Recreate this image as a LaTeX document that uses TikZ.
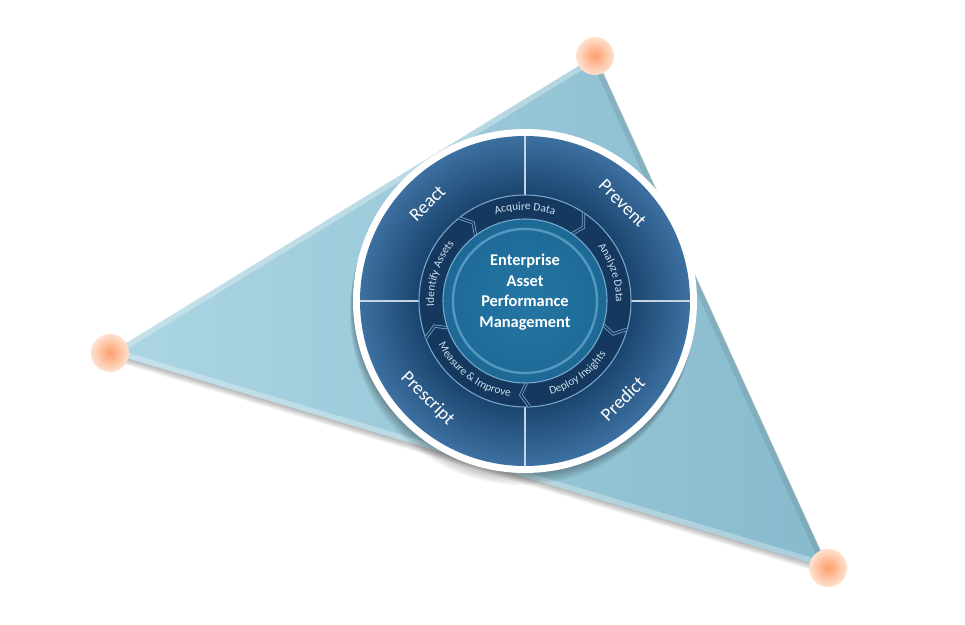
\documentclass[tikz,border=0pt]{standalone}
\usepackage{fontspec}
\setmainfont{Carlito}
\usetikzlibrary{decorations.text}

\definecolor{triLight}{RGB}{172,214,228}
\definecolor{triDark}{RGB}{134,186,204}
\definecolor{discOuter}{RGB}{60,112,160}
\definecolor{discInner}{RGB}{26,68,110}
\definecolor{ringNavy}{RGB}{20,56,94}
\definecolor{ringLine}{RGB}{120,168,205}
\definecolor{hubBlue}{RGB}{26,98,142}
\definecolor{hubLight}{RGB}{36,118,164}
\definecolor{hubLine}{RGB}{84,152,194}
\definecolor{ballCore}{RGB}{253,158,108}
\definecolor{ballRim}{RGB}{254,226,208}
\definecolor{ringText}{RGB}{204,224,238}

\pgfdeclareradialshading{hubshade}{\pgfpoint{0bp}{0bp}}{color(0bp)=(hubLight); color(40bp)=(hubBlue); color(50bp)=(hubBlue)}

\tikzset{
    quarter/.style={font=\fontsize{14}{16}\selectfont, text=white},
    hubtext/.style={font=\fontsize{12.3}{15.5}\selectfont\bfseries, text=white, align=center},
    ringlabel/.style={decorate, decoration={text along path, text align=center, text color=ringText, text={|\fontsize{8.5}{9}\selectfont|#1}}},
    divider/.style={draw=white!70!discOuter, line width=0.8pt},
    chevron/.style={draw=ringLine, double=ringNavy, double distance=1.2pt, line width=0.6pt},
    ball/.style={circle, minimum size=28.5pt, inner sep=0pt, shading=radial, inner color=ballCore, outer color=ballRim}
}

\begin{document}
\begin{tikzpicture}[x=0.75pt, y=0.75pt]
    \useasboundingbox (0,0) rectangle (965,625);

    \coordinate (apexTop) at (595,569);
    \coordinate (apexLeft) at (110,272);
    \coordinate (apexRight) at (828,57);
    \coordinate (hub) at (525,324);

    \foreach \k in {1, 2, ..., 6}{
        \fill[black, opacity=0.05] ([shift={(\k*0.8,-\k*1.4)}]apexTop) -- ([shift={(\k*0.8,-\k*1.4)}]apexLeft) -- ([shift={(\k*0.8,-\k*1.4)}]apexRight) -- cycle;
    }

    \shade[left color=triLight, right color=triDark] (apexTop) -- (apexLeft) -- (apexRight) -- cycle;
    \begin{scope}
        \clip (apexTop) -- (apexLeft) -- (apexRight) -- cycle;
        \draw[white, opacity=0.3, line width=8pt] (apexRight) -- (apexLeft) -- (apexTop);
        \draw[black, opacity=0.08, line width=8pt] (apexTop) -- (apexRight);
    \end{scope}

    \foreach \v in {apexTop, apexLeft, apexRight}{
        \node[ball] (ball-\v) at (\v) {};
    }

    \foreach \k in {1, 2, ..., 8}{
        \fill[black, opacity=0.04] ([shift={(-\k*0.4,-\k*1.5)}]hub) circle[radius=172];
    }
    \fill[white] (hub) circle[radius=172];

    \foreach \r [evaluate=\r as \p using {(\r-106)*100/59}] in {165, 163, ..., 107}{
        \fill[discOuter!\p!discInner] (hub) circle[radius=\r];
    }

    \foreach \a in {0, 90, 180, 270}{
        \draw[divider] ([shift={(\a:106)}]hub) -- ([shift={(\a:165)}]hub);
    }

    \fill[ringNavy] (hub) circle[radius=106];
    \draw[ringLine, line width=0.8pt] (hub) circle[radius=106];

    \foreach \a in {54, 126, 198, 270, 342}{
        \draw[chevron] ([shift={(\a+2.5:106)}]hub) -- ([shift={(\a-2.5:94)}]hub) -- ([shift={(\a+1:82)}]hub);
    }

    \shade[shading=hubshade] (hub) circle[radius=82];
    \draw[ringLine, line width=0.8pt] (hub) circle[radius=82];
    \draw[hubLine, line width=1.8pt] (hub) circle[radius=72];

    \path[ringlabel={Acquire Data}] ([shift={(126:91)}]hub) arc[start angle=126, end angle=54, radius=91];
    \path[ringlabel={Analyze Data}] ([shift={(54:91)}]hub) arc[start angle=54, end angle=-18, radius=91];
    \path[ringlabel={Deploy Insights}] ([shift={(-90:97)}]hub) arc[start angle=-90, end angle=-18, radius=97];
    \path[ringlabel={Measure {\&} Improve}] ([shift={(198:97)}]hub) arc[start angle=198, end angle=270, radius=97];
    \path[ringlabel={Identify Assets}] ([shift={(198:91)}]hub) arc[start angle=198, end angle=126, radius=91];

    \node[quarter, rotate=45] (react) at ([shift={(135:138)}]hub) {React};
    \node[quarter, rotate=-45] (prevent) at ([shift={(45:138)}]hub) {Prevent};
    \node[quarter, rotate=-45] (prescript) at ([shift={(225:138)}]hub) {Prescript};
    \node[quarter, rotate=45] (predict) at ([shift={(315:138)}]hub) {Predict};

    \node[hubtext] (eapm) at ([shift={(0,9)}]hub) {Enterprise\\Asset\\Performance\\Management};
\end{tikzpicture}
\end{document}
